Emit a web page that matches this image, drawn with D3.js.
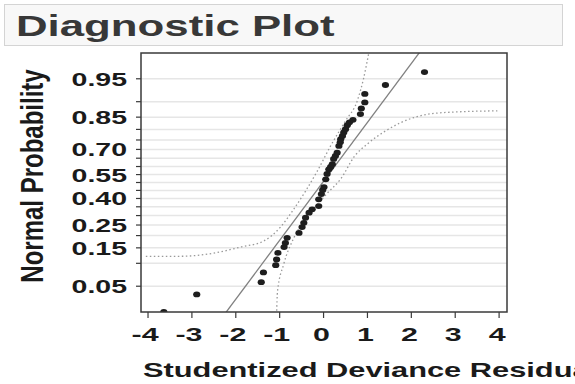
<!DOCTYPE html>
<html>
<head>
<meta charset="utf-8">
<script src="https://cdn.jsdelivr.net/npm/d3@7"></script>
<style>
html,body{margin:0;padding:0;background:#fff;}
svg{display:block;overflow:hidden;}
text{font-family:"Liberation Sans",Arial,sans-serif;font-weight:bold;}
</style>
</head>
<body>
<svg id="chart" width="575" height="384"></svg>
<script>
// ---- data ----
const titleText = "Diagnostic Plot";
const xLabel = "Studentized Deviance Residuals";
const yLabel = "Normal Probability";
const xTicks = [-4, -3, -2, -1, 0, 1, 2, 3, 4];
const yTickLabels = [0.05, 0.15, 0.25, 0.40, 0.55, 0.70, 0.85, 0.95];
const yMinorTicks = [0.05,0.10,0.15,0.20,0.25,0.30,0.35,0.40,0.45,0.50,0.55,0.60,0.65,0.70,0.75,0.80,0.85,0.90,0.95];
const residuals = [-3.64,-2.89,-1.42,-1.37,-1.09,-1.07,-1.04,-0.90,-0.87,-0.83,-0.56,-0.49,-0.45,-0.41,-0.33,-0.26,-0.11,-0.11,-0.05,-0.02,0.01,0.05,0.08,0.12,0.16,0.20,0.23,0.27,0.31,0.35,0.38,0.39,0.43,0.46,0.50,0.54,0.59,0.67,0.84,0.86,0.94,0.94,1.41,2.30];
const probs = [0.020,0.038,0.057,0.077,0.095,0.111,0.132,0.153,0.169,0.190,0.212,0.240,0.261,0.288,0.316,0.335,0.354,0.395,0.427,0.453,0.471,0.520,0.554,0.583,0.597,0.614,0.646,0.663,0.682,0.719,0.738,0.754,0.770,0.786,0.801,0.818,0.830,0.840,0.861,0.880,0.898,0.920,0.939,0.960];
const refMean = -0.02, refSd = 1.07;
const upperBandX = [-4.05,-3.26,-2.51,-1.89,-1.37,-0.98,-0.71,-0.41,-0.14,0.16,0.50,0.77,0.91,1.03];
const upperBandP = [0.121,0.121,0.131,0.153,0.176,0.240,0.325,0.446,0.573,0.719,0.836,0.903,0.950,0.980];
const lowerBandX = [-1.07,-1.05,-0.91,-0.68,-0.30,0.09,0.39,0.71,1.00,1.41,1.75,2.44,3.12,3.96];
const lowerBandP = [0.018,0.042,0.097,0.189,0.314,0.434,0.522,0.663,0.730,0.793,0.828,0.862,0.869,0.872];

// ---- inverse normal CDF (Acklam) ----
function probit(p){
  const a=[-3.969683028665376e+01,2.209460984245205e+02,-2.759285104469687e+02,1.383577518672690e+02,-3.066479806614716e+01,2.506628277459239e+00];
  const b=[-5.447609879822406e+01,1.615858368580409e+02,-1.556989798598866e+02,6.680131188771972e+01,-1.328068155288572e+01];
  const c=[-7.784894002430293e-03,-3.223964580411365e-01,-2.400758277161838e+00,-2.549732539343734e+00,4.374664141464968e+00,2.938163982698783e+00];
  const d=[7.784695709041462e-03,3.224671290700398e-01,2.445134137142996e+00,3.754408661907416e+00];
  const pl=0.02425, ph=1-pl; let q,r;
  if(p<pl){q=Math.sqrt(-2*Math.log(p));return (((((c[0]*q+c[1])*q+c[2])*q+c[3])*q+c[4])*q+c[5])/((((d[0]*q+d[1])*q+d[2])*q+d[3])*q+1);}
  if(p<=ph){q=p-0.5;r=q*q;return (((((a[0]*r+a[1])*r+a[2])*r+a[3])*r+a[4])*r+a[5])*q/(((((b[0]*r+b[1])*r+b[2])*r+b[3])*r+b[4])*r+1);}
  q=Math.sqrt(-2*Math.log(1-p));return -(((((c[0]*q+c[1])*q+c[2])*q+c[3])*q+c[4])*q+c[5])/((((d[0]*q+d[1])*q+d[2])*q+d[3])*q+1);
}

const svg = d3.select("#chart");
const L=141, R=507, T=53, B=312;
const x = d3.scaleLinear().domain([-4.16, 4.18]).range([L, R]);
const zScale = d3.scaleLinear().domain([probit(0.02), probit(0.98)]).range([B, T]);
const y = p => zScale(probit(p));

// title box
svg.append("rect").attr("x",4.5).attr("y",4.5).attr("width",558).attr("height",41)
  .attr("fill","#f8f8f8").attr("stroke","#d4d4d4").attr("stroke-width",1);
svg.append("text").attr("transform","translate(16,36) scale(1.46,1)")
  .attr("font-size",30).attr("fill","#383838").text(titleText);

// clip
svg.append("clipPath").attr("id","plotclip").append("rect")
  .attr("x",L).attr("y",T).attr("width",R-L).attr("height",B-T);

// gridlines
svg.append("g").selectAll("line").data(yMinorTicks).join("line")
  .attr("x1",L).attr("x2",R).attr("y1",d=>y(d)).attr("y2",d=>y(d))
  .attr("stroke","#e6e6e6").attr("stroke-width",1.5);

const plot = svg.append("g").attr("clip-path","url(#plotclip)");

// bands
const line = d3.line().x(d=>x(d[0])).y(d=>y(d[1])).curve(d3.curveMonotoneX);
plot.append("path").datum(upperBandX.map((v,i)=>[v,upperBandP[i]])).attr("d",line)
  .attr("fill","none").attr("stroke","#999").attr("stroke-width",1.3).attr("stroke-dasharray","1.5,2.5");
plot.append("path").datum(lowerBandX.map((v,i)=>[v,lowerBandP[i]])).attr("d",line)
  .attr("fill","none").attr("stroke","#999").attr("stroke-width",1.3).attr("stroke-dasharray","1.5,2.5");

// reference line
const xd = x.domain();
plot.append("line")
  .attr("x1",x(xd[0])).attr("y1",zScale((xd[0]-refMean)/refSd))
  .attr("x2",x(xd[1])).attr("y2",zScale((xd[1]-refMean)/refSd))
  .attr("stroke","#808080").attr("stroke-width",1.3);

// points
plot.append("g").selectAll("ellipse").data(residuals.map((v,i)=>[v,probs[i]])).join("ellipse")
  .attr("cx",d=>x(d[0])).attr("cy",d=>y(d[1])).attr("rx",3.6).attr("ry",2.9)
  .attr("fill","#1e1e1e");

// frame
svg.append("rect").attr("x",L).attr("y",T).attr("width",R-L).attr("height",B-T)
  .attr("fill","none").attr("stroke","#3a3a3a").attr("stroke-width",1.5);

// y ticks
svg.append("g").selectAll("line").data(yMinorTicks).join("line")
  .attr("x1",L-5).attr("x2",L).attr("y1",d=>y(d)).attr("y2",d=>y(d))
  .attr("stroke","#3a3a3a").attr("stroke-width",1.2);
svg.append("g").selectAll("text").data(yTickLabels).join("text")
  .attr("transform",d=>`translate(127,${y(d)+7}) scale(1.5,1)`)
  .attr("text-anchor","end").attr("font-size",19).attr("fill","#1a1a1a")
  .text(d=>d3.format(".2f")(d));

// x ticks
svg.append("g").selectAll("line").data(xTicks).join("line")
  .attr("x1",d=>x(d)).attr("x2",d=>x(d)).attr("y1",B).attr("y2",B+6)
  .attr("stroke","#3a3a3a").attr("stroke-width",1.2);
svg.append("g").selectAll("text").data(xTicks).join("text")
  .attr("transform",d=>`translate(${x(d)-(d<0?3:2)},341) scale(1.6,1)`)
  .attr("text-anchor","middle").attr("font-size",19).attr("fill","#1a1a1a")
  .text(d=>String(d));

// axis titles
svg.append("text").attr("transform","translate(143,377) scale(1.58,1)")
  .attr("font-size",19.5).attr("fill","#1a1a1a").text(xLabel);
svg.append("text").attr("transform","translate(43,176) scale(1.3,1) rotate(-90)")
  .attr("text-anchor","middle").attr("font-size",24).attr("fill","#1a1a1a").text(yLabel);
</script>
</body>
</html>
